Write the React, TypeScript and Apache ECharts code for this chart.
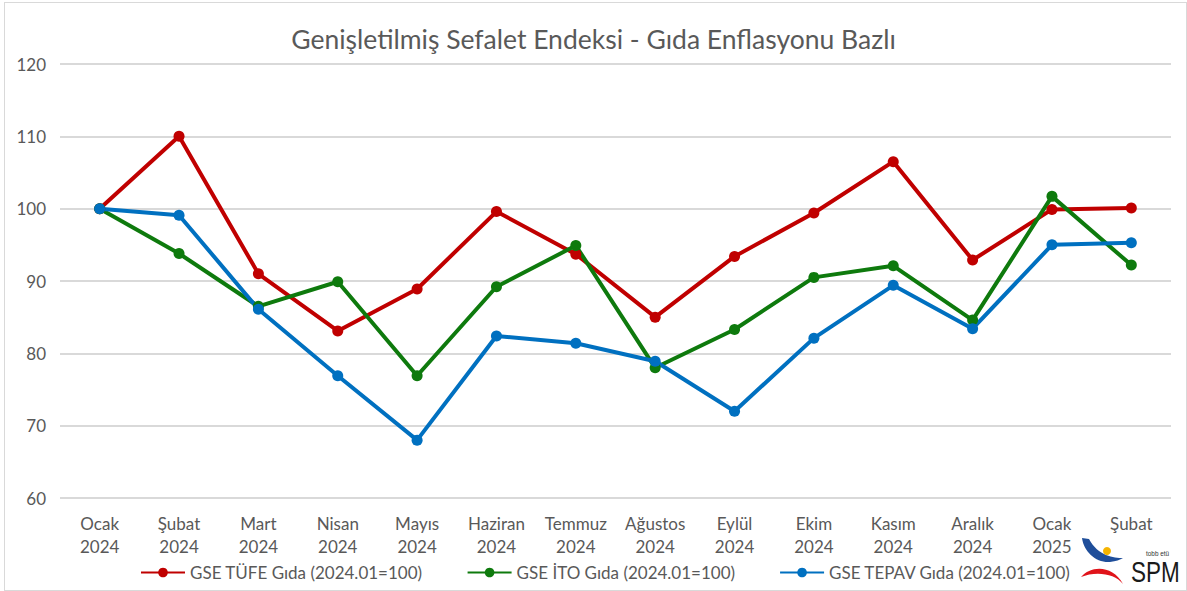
import React, { useEffect, useRef } from "react";
import * as echarts from "echarts";

const months = ["Ocak\n2024", "Şubat\n2024", "Mart\n2024", "Nisan\n2024", "Mayıs\n2024", "Haziran\n2024", "Temmuz\n2024", "Ağustos\n2024", "Eylül\n2024", "Ekim\n2024", "Kasım\n2024", "Aralık\n2024", "Ocak\n2025", "Şubat"];
const tufe = [100, 110, 91.0, 83.1, 88.9, 99.6, 93.7, 85.0, 93.4, 99.4, 106.5, 92.9, 99.9, 100.1];
const ito = [100, 93.8, 86.5, 89.9, 76.9, 89.2, 94.9, 78.0, 83.3, 90.5, 92.1, 84.6, 101.7, 92.2];
const tepav = [100, 99.1, 86.1, 76.9, 68.0, 82.4, 81.4, 78.9, 72.0, 82.1, 89.4, 83.4, 95.0, 95.3];
const seriesNames = ["GSE TÜFE Gıda (2024.01=100)", "GSE İTO Gıda (2024.01=100)", "GSE TEPAV Gıda (2024.01=100)"];
const colors = ["#C00000", "#0E7A0D", "#0070C0"];

const FONT = "Lato, 'Open Sans', sans-serif";

export default function App() {
  const ref = useRef<HTMLDivElement>(null);
  useEffect(() => {
    if (!ref.current) return;
    echarts.graphic.registerShape(
      "blueSwoosh",
      echarts.graphic.extendPath("M0,0 C2,14 14,25 28,24 C34,23 38,22 41,20 C32,20 16,18 7,1 Z", {})
    );
    echarts.graphic.registerShape(
      "redSwoosh",
      echarts.graphic.extendPath("M0,12 C10,0 32,0 42,19 C34,8 14,6 0,12 Z", {})
    );
    const chart = echarts.init(ref.current, null, { renderer: "svg" });
    const data = [tufe, ito, tepav];
    chart.setOption({
      animation: false,
      title: {
        text: "Genişletilmiş Sefalet Endeksi - Gıda Enflasyonu Bazlı",
        left: "center",
        top: 20,
        textStyle: { fontFamily: FONT, fontSize: 26.5, fontWeight: "normal", color: "#595959" },
      },
      grid: { left: 60, right: 16, top: 64, bottom: 93, containLabel: false },
      legend: {
        bottom: 5,
        left: 135,
        itemWidth: 44,
        itemHeight: 12,
        itemGap: 44,
        textStyle: { fontFamily: FONT, fontSize: 17, color: "#595959" },
        data: seriesNames,
      },
      xAxis: {
        type: "category",
        data: months,
        boundaryGap: true,
        axisLine: { show: false },
        axisTick: { show: false },
        axisLabel: { fontFamily: FONT, fontSize: 17, color: "#595959", lineHeight: 23, margin: 14, interval: 0 },
      },
      yAxis: {
        type: "value",
        min: 60,
        max: 120,
        interval: 10,
        axisLine: { show: false },
        axisTick: { show: false },
        axisLabel: { fontFamily: FONT, fontSize: 17, color: "#595959", margin: 14 },
        splitLine: { lineStyle: { color: "#D9D9D9", width: 2 } },
      },
      series: seriesNames.map((n, i) => ({
        name: n,
        type: "line",
        data: data[i],
        symbol: "circle",
        symbolSize: 11,
        lineStyle: { width: 4, color: colors[i] },
        itemStyle: { color: colors[i] },
      })),
      graphic: [
        { type: "blueSwoosh", x: 1082, y: 538, style: { fill: "#1F4E9A" } },
        { type: "circle", shape: { cx: 1107, cy: 551, r: 4 }, style: { fill: "#F5B400" } },
        { type: "redSwoosh", x: 1081, y: 565, style: { fill: "#E0131A" } },
        { type: "text", x: 1131, y: 557, scaleX: 0.75, style: { text: "SPM", font: "30px 'Liberation Sans', sans-serif", lineHeight: 30, fill: "#1A1A1A" } },
        { type: "text", x: 1146, y: 549, scaleX: 0.8, style: { text: "tobb etü", font: "8px 'Liberation Sans', sans-serif", fill: "#333" } },
      ],
    });
    return () => chart.dispose();
  }, []);
  return (
    <div style={{ position: "absolute", left: 0, top: 0, width: 1187, height: 591, background: "#fff" }}>
      <div style={{ position: "absolute", left: 4, top: 2, width: 1183, height: 589, border: "1px solid #D9D9D9", boxSizing: "border-box" }} />
      <div ref={ref} style={{ position: "absolute", left: 0, top: 0, width: 1187, height: 591 }} />
    </div>
  );
}
